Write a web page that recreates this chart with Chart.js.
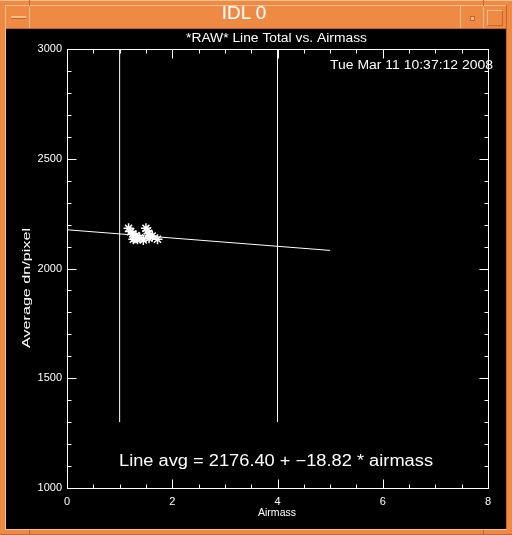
<!DOCTYPE html>
<html><head><meta charset="utf-8">
<script src="https://cdn.jsdelivr.net/npm/chart.js@4/dist/chart.umd.min.js"></script>
<style>
html,body{margin:0;padding:0;width:512px;height:535px;overflow:hidden;background:#EE8A44;}
#frame{position:absolute;left:0;top:0;width:512px;height:535px;background:#EE8A44;}
.ln{position:absolute;}
#title{position:absolute;left:0;top:2px;width:488px;height:26px;line-height:28px;text-align:center;color:#fff;font:19px "Liberation Sans",Arial,sans-serif;}
#wrap{position:absolute;left:6px;top:29px;width:500px;height:500px;background:#000;}
canvas{display:block;}
</style></head>
<body>
<div id="frame">
  <div class="ln" style="left:0;top:0;width:512px;height:1px;background:#F8BE8E"></div>
  <div class="ln" style="left:5px;top:5px;width:502px;height:1px;background:#F8BE8E"></div>
  <div class="ln" style="left:5px;top:28px;width:502px;height:1px;background:#C4652A"></div>
  <div class="ln" style="left:29px;top:0;width:1px;height:6px;background:#C4652A"></div>
  <div class="ln" style="left:483px;top:0;width:1px;height:6px;background:#C4652A"></div>
  <div class="ln" style="left:29px;top:6px;width:1px;height:22px;background:#F8BE8E"></div>
  <div class="ln" style="left:460px;top:6px;width:1px;height:22px;background:#F8BE8E"></div>
  <div class="ln" style="left:483px;top:6px;width:1px;height:22px;background:#F8BE8E"></div>
  <div class="ln" style="left:11px;top:16px;width:15px;height:2px;background:#F8BE8E;border-bottom:1px solid #C4652A"></div>
  <div class="ln" style="left:470px;top:16px;width:3px;height:3px;background:#F8BE8E;border:1px solid #C4652A"></div>
  <div class="ln" style="left:487px;top:10px;width:14px;height:14px;border:1px solid #F8BE8E;border-right-color:#C4652A;border-bottom-color:#C4652A"></div>
  <div class="ln" style="left:5px;top:5px;width:1px;height:525px;background:#F8BE8E"></div>
  <div class="ln" style="left:506px;top:5px;width:1px;height:525px;background:#C4652A"></div>
  <div class="ln" style="left:5px;top:529px;width:502px;height:1px;background:#F8BE8E"></div>
  <div class="ln" style="left:29px;top:530px;width:1px;height:5px;background:#C4652A"></div>
  <div class="ln" style="left:483px;top:530px;width:1px;height:5px;background:#C4652A"></div>
  <div class="ln" style="left:0;top:534px;width:512px;height:1px;background:#C4652A"></div>
  <div id="title">IDL 0</div>
  <div id="wrap"><canvas id="c" width="500" height="500"></canvas></div>
</div>
<script>
// ---- data ----
const starX = [1.17, 1.21, 1.25, 1.26, 1.29, 1.31, 1.34, 1.38, 1.45, 1.50, 1.53, 1.55, 1.56, 1.62, 1.72];
const starY = [2183, 2168, 2157, 2133, 2138, 2150, 2133, 2140, 2130, 2183, 2172, 2160, 2138, 2148, 2133];
const fitX = [0, 5];
const fitY = [2176.40, 2082.30];
const vline1X = [1, 1];
const vline2X = [4, 4];
const vlineY = [1300, 3000];
const xTicks = [0, 2, 4, 6, 8];
const yTicks = [1000, 1500, 2000, 2500, 3000];
const xMinorStep = 0.5;
const yMinorStep = 100;
const titleText = '*RAW* Line Total vs. Airmass';
const dateText = 'Tue Mar 11 10:37:12 2008';
const noteText = 'Line avg = 2176.40 + \u221218.82 * airmass';
const xTitle = 'Airmass';
const yTitle = 'Average dn/pixel';

const FONT = '"Liberation Sans", Arial, sans-serif';

function fitText(ctx, text, x0, x1, cy, size){
  ctx.font = size + 'px ' + FONT;
  const w = ctx.measureText(text).width;
  ctx.save();
  ctx.translate(x0, cy);
  ctx.scale((x1 - x0) / w, 1);
  ctx.textAlign = 'left'; ctx.textBaseline = 'middle';
  ctx.fillText(text, 0, 0);
  ctx.restore();
}

const idlPlugin = {
  id: 'idl',
  afterDraw(chart){
    const ctx = chart.ctx, a = chart.chartArea, x = chart.scales.x, y = chart.scales.y;
    ctx.save();
    ctx.strokeStyle = '#fff'; ctx.fillStyle = '#fff'; ctx.lineWidth = 1;
    const L = Math.round(a.left) + 0.5, R = Math.round(a.right) + 0.5;
    const T = Math.round(a.top) + 0.5, B = Math.round(a.bottom) + 0.5;
    ctx.strokeRect(L, T, R - L, B - T);
    ctx.beginPath();
    const xMaj = xTicks[1] - xTicks[0];
    for (let v = xTicks[0]; v <= xTicks[xTicks.length-1] + 1e-9; v += xMinorStep){
      const px = Math.round(x.getPixelForValue(v)) + 0.5;
      const major = Math.abs(v / xMaj - Math.round(v / xMaj)) < 1e-6;
      const len = major ? 9 : 4;
      ctx.moveTo(px, B); ctx.lineTo(px, B - len);
      ctx.moveTo(px, T); ctx.lineTo(px, T + len);
    }
    const yMaj = yTicks[1] - yTicks[0];
    for (let v = yTicks[0]; v <= yTicks[yTicks.length-1] + 1e-9; v += yMinorStep){
      const py = Math.round(y.getPixelForValue(v)) + 0.5;
      const major = Math.abs(v / yMaj - Math.round(v / yMaj)) < 1e-6;
      const len = major ? 9 : 4;
      ctx.moveTo(L, py); ctx.lineTo(L + len, py);
      ctx.moveTo(R, py); ctx.lineTo(R - len, py);
    }
    ctx.stroke();
    // texts
    fitText(ctx, titleText, 180, 361, 10, 12);
    fitText(ctx, dateText, 324, 487, 37, 12);
    fitText(ctx, noteText, 113, 427, 433, 16);
    fitText(ctx, xTitle, 252, 290, 484, 10);
    ctx.save();
    ctx.translate(21, 319);
    ctx.rotate(-Math.PI/2);
    fitText(ctx, yTitle, 0, 120, 0, 10);
    ctx.restore();
    ctx.restore();
  }
};

const white = '#ffffff';
new Chart(document.getElementById('c'), {
  type: 'scatter',
  data: {
    datasets: [
      { label: 'stars', data: starX.map((v,i)=>({x:v, y:starY[i]})), pointStyle: 'star',
        pointRadius: 5, pointBorderColor: white, pointBackgroundColor: white, pointBorderWidth: 1.5, showLine: false },
      { label: 'fit', data: fitX.map((v,i)=>({x:v, y:fitY[i]})), showLine: true, borderColor: white,
        borderWidth: 1, pointRadius: 0 },
      { label: 'v1', data: vline1X.map((v,i)=>({x:v, y:vlineY[i]})), showLine: true, borderColor: white,
        borderWidth: 1, pointRadius: 0 },
      { label: 'v2', data: vline2X.map((v,i)=>({x:v, y:vlineY[i]})), showLine: true, borderColor: white,
        borderWidth: 1, pointRadius: 0 }
    ]
  },
  options: {
    responsive: false, animation: false, maintainAspectRatio: false,
    layout: { padding: { top: 20, right: 18, left: 0, bottom: 0 } },
    plugins: { legend: { display: false }, tooltip: { enabled: false }, title: { display: false } },
    scales: {
      x: { type: 'linear', min: 0, max: 8,
        afterFit(s){ s.height = 41; },
        afterBuildTicks(s){ s.ticks = xTicks.map(v=>({value:v})); },
        grid: { display: false, drawTicks: false },
        border: { display: false },
        ticks: { color: white, padding: 7, font: { family: FONT, size: 11 }, maxRotation: 0, autoSkip: false,
          callback: v => String(v) }
      },
      y: { type: 'linear', min: 1000, max: 3000,
        afterFit(s){ s.width = 61; },
        afterBuildTicks(s){ s.ticks = yTicks.map(v=>({value:v})); },
        grid: { display: false, drawTicks: false },
        border: { display: false },
        ticks: { color: white, padding: 5, font: { family: FONT, size: 11 }, autoSkip: false,
          callback: v => String(v) }
      }
    }
  },
  plugins: [idlPlugin]
});
</script>
</body></html>
